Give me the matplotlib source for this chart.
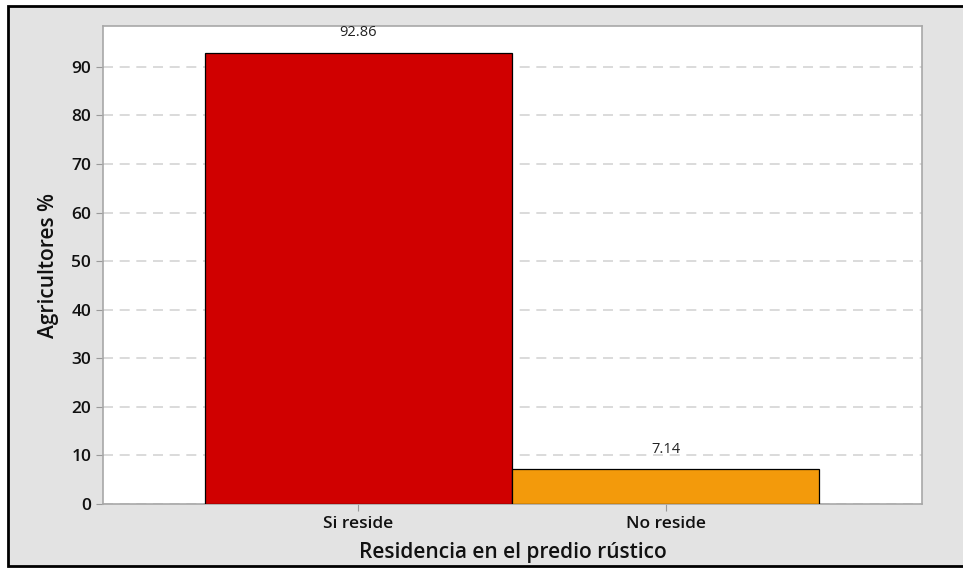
import matplotlib.pyplot as plt
from matplotlib.patches import Rectangle
from matplotlib.lines import Line2D

categorias = ['Si reside', 'No reside']
porcentajes = [92.86, 7.14]
colores = ['#d00000', '#f39a0b']

plt.rcParams['font.family'] = ['Open Sans', 'DejaVu Sans']

fig = plt.figure(figsize=(9.63, 5.68), dpi=100, facecolor='white')
W, H = 963, 568
# gray panel, black frame on left/top/bottom only (right edge runs off the image)
left, top, bottom = 8 / W, 1 - 6 / H, 2 / H
fig.patches.append(Rectangle((left, bottom), 1 - left, top - bottom,
                             transform=fig.transFigure, facecolor='#e3e3e3',
                             edgecolor='none', zorder=-10))
fig.lines.append(Line2D([1, left, left, 1], [top, top, bottom, bottom],
                        transform=fig.transFigure, color='black', linewidth=2,
                        solid_joinstyle='miter'))

ax = fig.add_axes([103 / W, (H - 504) / H, (922 - 103) / W, (504 - 26) / H])
ax.set_facecolor('white')

x = list(range(len(categorias)))
ax.bar(x, porcentajes, width=1.0, color=colores, edgecolor='black', linewidth=0.9, zorder=3)

for xi, v in zip(x, porcentajes):
    ax.annotate(f'{v:.2f}', (xi, v), xytext=(0, 9), textcoords='offset points',
                ha='center', va='bottom', fontsize=10.5, color='#222222')

ax.set_xlim(-0.832, 1.835)
ax.set_ylim(0, 98.4)
ax.set_yticks(range(0, 100, 10))
ax.set_xticks(x)
ax.set_xticklabels(categorias)
ax.yaxis.grid(True, linestyle=(0, (6, 4)), color='#d4d4d4', linewidth=1.2, zorder=0)

for s in ax.spines.values():
    s.set_color('#a8a8a8')
    s.set_linewidth(1.2)
ax.tick_params(axis='both', colors='#999999', labelcolor='#111111', labelsize=12.5, length=5)
for lbl in ax.get_xticklabels() + ax.get_yticklabels():
    lbl.set_fontweight('semibold')

ax.set_xlabel('Residencia en el predio rústico', fontsize=15, fontweight='semibold',
              color='#111111', labelpad=7)
ax.set_ylabel('Agricultores %', fontsize=15, fontweight='semibold',
              color='#111111', labelpad=9)

fig.savefig('out.png', dpi=100, facecolor=fig.get_facecolor())
